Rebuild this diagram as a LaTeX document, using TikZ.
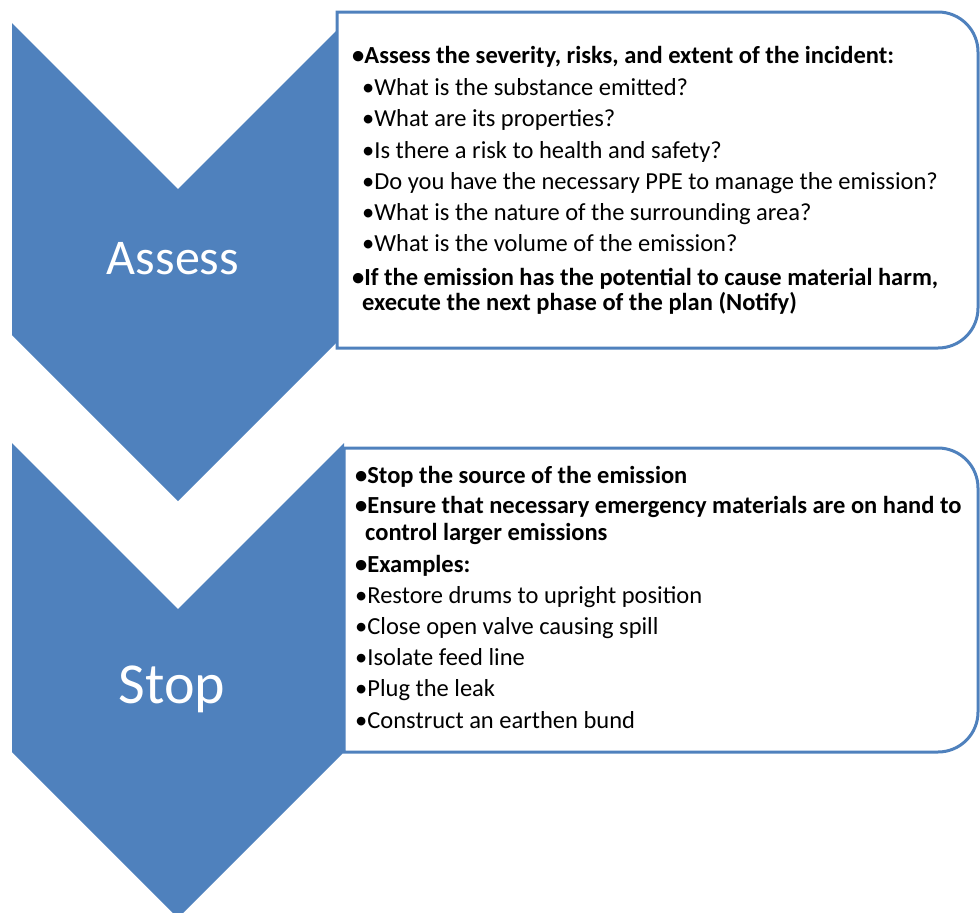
\documentclass[tikz,border=0pt]{standalone}
\usepackage{fontspec}
\setmainfont{Carlito}
\definecolor{chevblue}{HTML}{4F81BD}
\begin{document}
\begin{tikzpicture}[x=1pt,y=-1pt,
	chev/.style={fill=chevblue},
	phase/.style={text=white,inner sep=0pt,anchor=base},
	infobox/.style={draw=chevblue,line width=3pt,fill=white},
	item/.style={anchor=base west,inner sep=0pt,font=\fontsize{24.5}{28}\selectfont}]
	\useasboundingbox (0,0) rectangle (980,913);
	
	% chevrons
	\fill[chev] (12,23) -- (178,189) -- (344,23) -- (344,335) -- (178,501) -- (12,335) -- cycle;
	\fill[chev] (12,443) -- (178,609) -- (344,443) -- (344,752) -- (178,918) -- (12,752) -- cycle;
	\node[phase,font=\fontsize{50}{54}\selectfont] (assess) at (173,274) {Assess};
	\node[phase,font=\fontsize{58}{62}\selectfont] (stop) at (172,703) {Stop};
	
	% boxes
	\draw[infobox] (337,12) -- (938,12) arc[start angle=-90,end angle=0,radius=40] -- (978,308) arc[start angle=0,end angle=90,radius=40] -- (337,348) -- cycle;
	\draw[infobox] (344,448) -- (938,448) arc[start angle=-90,end angle=0,radius=40] -- (978,712) arc[start angle=0,end angle=90,radius=40] -- (344,752) -- cycle;
	
	\foreach \y/\x/\txt[count=\i] in {
		63/352/{\bfseries •Assess the severity, risks, and extent of the incident:},
		95/362/{•What is the substance emitted?},
		126/362/{•What are its properties?},
		158/362/{•Is there a risk to health and safety?},
		189/362/{•Do you have the necessary PPE to manage the emission?},
		220/362/{•What is the nature of the surrounding area?},
		251/362/{•What is the volume of the emission?},
		285/352/{\bfseries •If the emission has the potential to cause material harm,},
		310/362/{\bfseries execute the next phase of the plan (Notify)}}{
		\node[item] (a\i) at (\x,\y) {\txt};
	}
	
	\foreach \y/\x/\txt[count=\i] in {
		483/355/{\bfseries •Stop the source of the emission},
		513/355/{\bfseries •Ensure that necessary emergency materials are on hand to},
		540/365/{\bfseries control larger emissions},
		572/355/{\bfseries •Examples:},
		603/355/{•Restore drums to upright position},
		634/355/{•Close open valve causing spill},
		665/355/{•Isolate feed line},
		696/355/{•Plug the leak},
		728/355/{•Construct an earthen bund}}{
		\node[item] (b\i) at (\x,\y) {\txt};
	}
\end{tikzpicture}
\end{document}
